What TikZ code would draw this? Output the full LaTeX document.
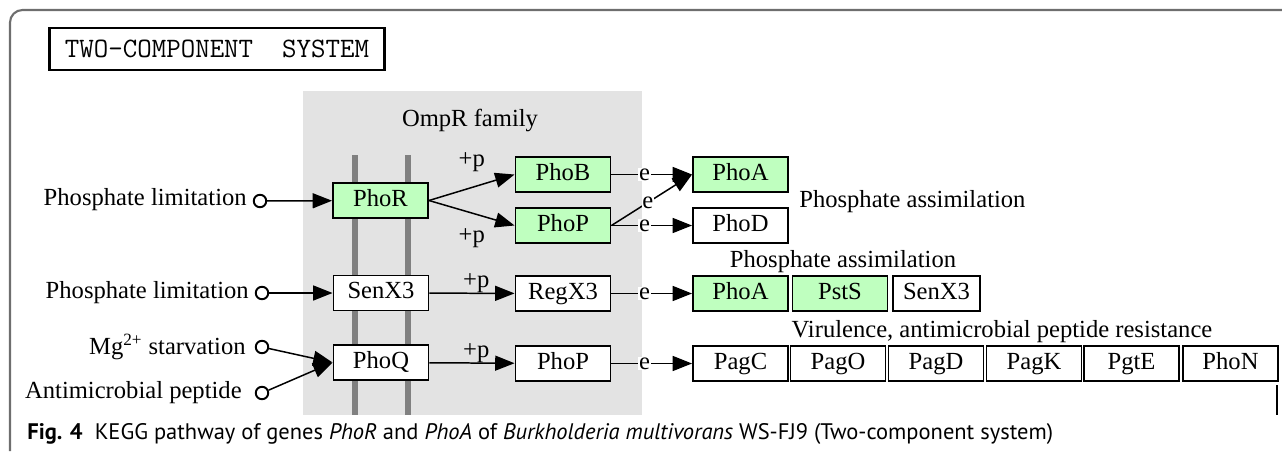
\documentclass[tikz,border=0pt]{standalone}
\usepackage{fontspec}
\setmainfont{Liberation Serif}
\newfontfamily\capfont{PT Sans}
\usetikzlibrary{arrows.meta}

\definecolor{keggreen}{HTML}{BFFFBF}
\definecolor{omprgray}{HTML}{E3E3E3}
\definecolor{barcol}{HTML}{808080}
\definecolor{framecol}{HTML}{6E6E6E}

\newcommand{\keggfont}{\fontsize{14}{16}\selectfont}

\tikzset{
  gene/.style={draw, line width=1.1pt, fill=white, minimum width=1.9cm,
    minimum height=0.7cm, inner sep=0pt, text height=9.5pt, text depth=3pt, font=\keggfont},
  hit/.style={gene, fill=keggreen},
  sig/.style={circle, draw, line width=1.1pt, fill=white, minimum size=0.25cm, inner sep=0pt},
  rel/.style={line width=0.85pt, -{Triangle[length=11pt,width=8.5pt]}},
  lbl/.style={font=\keggfont, inner sep=0pt},
  expr/.style={lbl, fill=white, inner sep=0.4pt},
}

\begin{document}
\begin{tikzpicture}[x=0.02cm, y=-0.02cm]
            \useasboundingbox (0,0) rectangle (1282,451);

            % frame and title
            \draw[framecol, line width=1.2pt, rounded corners=0.25cm] (10,451) -- (10,10) -- (1282,10);
            \draw[line width=1.2pt] (1277,385) -- (1277,415);
            \node[draw, line width=1.6pt, minimum width=6.7cm, minimum height=0.84cm,
                  font=\ttfamily\fontsize{16}{18}\selectfont] (title) at (217,49) {TWO-COMPONENT\ \ SYSTEM};

            % OmpR family block
            \fill[omprgray] (303,91) rectangle (642,415);
            \node[lbl] (ompr) at (470,120) {OmpR family};
            \foreach \bx in {355,408}
                \fill[barcol] (\bx-3,155) rectangle (\bx+3,415);

            % genes
            \node[hit]  (phor)  at (380.5,200.5) {PhoR};
            \node[hit]  (phob)  at (563,174.5) {PhoB};
            \node[hit]  (phop)  at (563,225.5) {PhoP};
            \node[hit]  (phoa)  at (740.5,174.5) {PhoA};
            \node[gene] (phod)  at (740.5,225.5) {PhoD};

            \node[gene] (senx)  at (381,293) {SenX3};
            \node[gene] (regx)  at (563,293.5) {RegX3};
            \node[hit]  (phoaa) at (740.5,293.5) {PhoA};
            \node[hit]  (psts)  at (840,293.5) {PstS};
            \node[gene, minimum width=1.74cm] (senxx) at (936.5,293.5) {SenX3};

            \node[gene] (phoq)  at (381,362.5) {PhoQ};
            \node[gene] (phopp) at (563,363.5) {PhoP};
            \node[gene] (pagc)  at (740.5,363.5) {PagC};
            \node[gene] (pago)  at (838,363.5) {PagO};
            \node[gene] (pagd)  at (936,363.5) {PagD};
            \node[gene] (pagk)  at (1034,363.5) {PagK};
            \node[gene] (pgte)  at (1131.5,363.5) {PgtE};
            \node[gene] (phon)  at (1230.5,363.5) {PhoN};

            % signals
            \node[sig] (sa) at (260,201) {};
            \node[sig] (sb) at (262,293) {};
            \node[sig] (sc) at (262,347) {};
            \node[sig] (sd) at (262,393) {};
            \node[lbl, anchor=east] (ina) at (247,200) {Phosphate limitation};
            \node[lbl, anchor=east] (inb) at (249,293) {Phosphate limitation};
            \node[lbl, anchor=east] (inc) at (246,347) {Mg\textsuperscript{2+} starvation};
            \node[lbl, anchor=east] (ind) at (242,393) {Antimicrobial peptide};

            % outcomes
            \node[lbl, anchor=west] (outa) at (799,202) {Phosphate assimilation};
            \node[lbl] (outb) at (843,262) {Phosphate assimilation};
            \node[lbl] (outc) at (1002,332) {Virulence, antimicrobial peptide resistance};

            % relations
            \draw[rel] (sa) -- (phor);
            \draw[rel] (phor.east) -- (phob.west) node[lbl, pos=0.5, above=0.3cm] {+p};
            \draw[rel] (phor.east) -- (phop.west) node[lbl, pos=0.5, below=0.3cm] {+p};
            \draw[rel] (phob) -- (phoa) node[expr, pos=0.41] {e};
            \draw[rel] (phop.east) -- (phoa.west) node[expr, pos=0.45] {e};
            \draw[rel] (phop) -- (phod) node[expr, pos=0.41] {e};

            \draw[rel] (sb) -- (senx);
            \draw[rel] (senx) -- (regx) node[lbl, pos=0.55, above] {+p};
            \draw[rel] (regx) -- (phoaa) node[expr, pos=0.41] {e};

            \draw[rel] (sc) -- (phoq.west);
            \draw[rel] (sd) -- (phoq.west);
            \draw[rel] (phoq) -- (phopp) node[lbl, pos=0.55, above] {+p};
            \draw[rel] (phopp) -- (pagc) node[expr, pos=0.41] {e};

            % caption
            \node[anchor=west, inner sep=0pt, font=\capfont\fontsize{12.8}{15}\selectfont] (cap) at (27,434)
                {\textbf{Fig. 4}\ \ KEGG pathway of genes \textit{PhoR} and \textit{PhoA} of \textit{Burkholderia multivorans} WS-FJ9 (Two-component system)};

        \end{tikzpicture}
\end{document}
